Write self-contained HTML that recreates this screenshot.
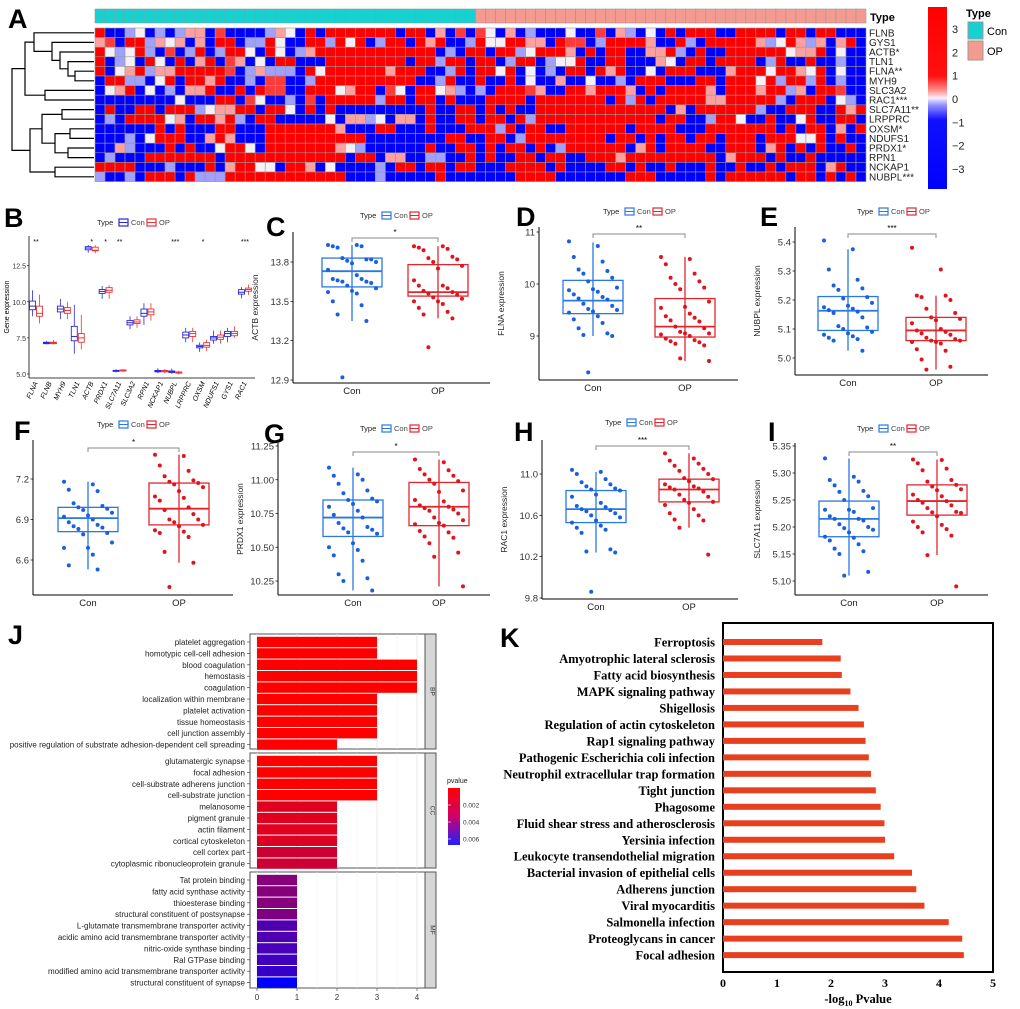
<!DOCTYPE html>
<html><head><meta charset="utf-8"><style>
html,body{margin:0;padding:0;background:#fff}
svg{display:block;font-family:"Liberation Sans",Arial,sans-serif}
</style></head><body>
<svg id="fig" width="1020" height="1009" viewBox="0 0 1020 1009" xmlns="http://www.w3.org/2000/svg"></svg>
<script>
// ---------- DATA ----------
const heatGenes = ["FLNB","GYS1","ACTB*","TLN1","FLNA**","MYH9","SLC3A2","RAC1***","SLC7A11**","LRPPRC","OXSM*","NDUFS1","PRDX1*","RPN1","NCKAP1","NUBPL***"];
const heatRows = [
"60023020244050000243060666666606604050530402000300504203060666006666066066000",
"45066243404066022630066263602660646002633664406550266664006206666642364240460",
"63236205026026630630246666666666660206606623666406066004462060066666634460300",
"60230630604605403066000666666660662660660266023360066000430660666602600600200",
"60346244666665024222063666666466600260663603020660646003066600046663664360300",
"06622036066460020550026666666666002600600603004003002066600066066636266260200",
"03460302044600606550066634660530663420206665400664666406066664066646624066500",
"00000000300066053002050666662660660600066660666666606260666664466666206660320",
"06006606662344660663060600000000060066060600666666666666604066666620066600646",
"02066663406646206600000304423044060066066062666666666666066002663006003600660",
"00000060600066000666666640006600060006662606600666666066660006666666060660406",
"00020366600464000666666666600000000660066026666666606606066066066606663360600",
"00420006060036630666666643200000060066060660602666666046066660066604606060060",
"02000666666606666666666660660440022006060066066006664666666666046660600600000",
"66660002000604663306640300002066066066000666606000066060060006006006066604600",
"20020666062226666666666660002000006000000066660000000666000006066666606606060"
];
const colorTicks = [3,2,1,0,-1,-2,-3];

const bGenes = ["FLNA","FLNB","MYH9","TLN1","ACTB","PRDX1","SLC7A11","SLC3A2","RPN1","NCKAP1","NUBPL","LRPPRC","OXSM","NDUFS1","GYS1","RAC1"];
// [lo, q1, median, q3, hi]
const bCon = [[9.0,9.45,9.7,10.05,10.8],[7.05,7.1,7.15,7.2,7.28],[8.8,9.3,9.5,9.7,10.2],[6.4,7.3,7.6,8.3,9.8],[13.4,13.6,13.72,13.82,13.93],[10.2,10.58,10.72,10.85,11.09],[5.11,5.18,5.22,5.25,5.33],[8.1,8.4,8.55,8.7,9.0],[8.4,9.0,9.2,9.5,9.9],[5.05,5.15,5.2,5.25,5.4],[5.02,5.1,5.16,5.21,5.38],[7.2,7.5,7.7,7.9,8.2],[6.53,6.81,6.91,6.99,7.18],[7.1,7.35,7.5,7.6,8.0],[7.2,7.6,7.8,7.95,8.2],[10.24,10.53,10.66,10.84,11.02]];
const bOp = [[8.5,9.0,9.2,9.7,10.5],[7.05,7.1,7.15,7.2,7.35],[8.8,9.2,9.4,9.6,10.0],[6.7,7.2,7.5,7.8,9.1],[13.35,13.53,13.57,13.78,13.93],[10.21,10.66,10.8,10.98,11.15],[5.15,5.22,5.25,5.28,5.33],[8.2,8.5,8.6,8.75,9.0],[8.7,9.1,9.3,9.5,9.9],[5.05,5.15,5.2,5.25,5.35],[4.96,5.06,5.1,5.14,5.22],[7.2,7.6,7.8,7.95,8.2],[6.58,6.86,6.98,7.17,7.38],[7.1,7.4,7.55,7.7,8.0],[7.5,7.65,7.8,7.95,8.3],[10.48,10.73,10.85,10.95,11.2]];
const bStars = ["**","","","","*","*","**","","","","***","","*","","","***"];
const bTicks = [5.0,7.5,10.0,12.5];

const actbCon=[13.93,13.93,13.92,13.92,13.91,13.82,13.83,13.82,13.81,13.8,13.79,13.74,13.7,13.67,13.67,13.66,13.65,13.65,13.64,13.62,13.6,13.58,13.57,13.56,13.5,13.47,13.4,13.35,12.92];
const actbOp=[13.92,13.92,13.91,13.9,13.89,13.84,13.83,13.82,13.8,13.77,13.75,13.66,13.62,13.62,13.6,13.58,13.57,13.56,13.55,13.53,13.52,13.5,13.5,13.48,13.45,13.42,13.4,13.37,13.15];
const actbStatsCon=[13.35,13.61,13.73,13.83,13.93], actbStatsOp=[13.37,13.54,13.57,13.78,13.92];
const actbTicks=[12.9,13.2,13.5,13.8];

const flnaCon=[10.82,10.73,10.52,10.43,10.28,10.25,10.2,10.12,10.05,9.93,9.9,9.88,9.85,9.8,9.75,9.72,9.7,9.62,9.58,9.52,9.5,9.47,9.45,9.38,9.32,9.25,9.15,9.05,9.02,9.0,8.3];
const flnaOp=[10.52,10.48,10.38,10.2,10.12,10.05,10.0,9.93,9.9,9.66,9.56,9.54,9.43,9.38,9.35,9.3,9.28,9.18,9.15,9.08,9.05,9.05,9.03,9.0,8.95,8.92,8.9,8.88,8.85,8.82,8.57,8.52];
const flnaStatsCon=[9.0,9.43,9.68,10.07,10.8], flnaStatsOp=[8.52,8.98,9.18,9.72,10.52];
const flnaTicks=[9,10,11];

const nubplCon=[5.405,5.375,5.305,5.27,5.25,5.24,5.235,5.21,5.205,5.19,5.18,5.175,5.17,5.165,5.16,5.155,5.14,5.11,5.105,5.1,5.09,5.085,5.08,5.075,5.07,5.065,5.06,5.025];
const nubplOp=[5.38,5.305,5.215,5.215,5.21,5.2,5.17,5.155,5.14,5.135,5.13,5.12,5.1,5.095,5.09,5.085,5.08,5.07,5.065,5.06,5.06,5.055,5.055,5.05,5.03,5.025,4.995,4.97,4.96];
const nubplStatsCon=[5.025,5.095,5.163,5.212,5.375], nubplStatsOp=[4.96,5.06,5.095,5.14,5.215];
const nubplTicks=[5.0,5.1,5.2,5.3,5.4];

const oxsmCon=[7.18,7.16,7.12,7.11,7.02,7.0,6.99,6.98,6.97,6.95,6.93,6.92,6.9,6.88,6.86,6.85,6.84,6.83,6.8,6.79,6.73,6.69,6.69,6.64,6.56,6.53];
const oxsmOp=[7.38,7.37,7.3,7.26,7.22,7.19,7.18,7.17,7.16,7.14,7.11,7.07,7.06,7.04,6.99,6.97,6.94,6.9,6.9,6.88,6.86,6.85,6.82,6.81,6.8,6.77,6.66,6.58,6.4];
const oxsmStatsCon=[6.53,6.81,6.91,6.99,7.18], oxsmStatsOp=[6.58,6.86,6.98,7.17,7.38];
const oxsmTicks=[6.6,6.9,7.2];

const prdx1Con=[11.09,11.04,11.03,11.0,10.97,10.92,10.9,10.86,10.85,10.84,10.82,10.8,10.77,10.74,10.72,10.68,10.65,10.64,10.63,10.61,10.6,10.53,10.5,10.48,10.44,10.4,10.3,10.27,10.25,10.18];
const prdx1Op=[11.15,11.13,11.08,11.07,11.04,11.03,11.0,10.99,10.97,10.92,10.91,10.85,10.84,10.81,10.8,10.79,10.78,10.77,10.75,10.72,10.7,10.68,10.67,10.66,10.62,10.61,10.58,10.57,10.53,10.46,10.43,10.21];
const prdx1StatsCon=[10.18,10.58,10.72,10.85,11.09], prdx1StatsOp=[10.21,10.66,10.8,10.98,11.15];
const prdx1Ticks=[10.25,10.5,10.75,11.0,11.25];

const rac1Con=[11.04,11.02,11.0,10.95,10.92,10.9,10.88,10.86,10.85,10.84,10.8,10.78,10.72,10.69,10.68,10.66,10.65,10.64,10.62,10.6,10.58,10.55,10.53,10.5,10.48,10.46,10.43,10.27,10.25,10.24,9.86];
const rac1Op=[11.2,11.15,11.13,11.1,11.08,11.05,11.03,11.0,10.96,10.95,10.93,10.9,10.88,10.87,10.86,10.85,10.83,10.8,10.78,10.75,10.73,10.72,10.7,10.66,10.62,10.6,10.56,10.55,10.48,10.22];
const rac1StatsCon=[10.24,10.53,10.66,10.84,11.02], rac1StatsOp=[10.48,10.73,10.85,10.95,11.2];
const rac1Ticks=[9.8,10.2,10.6,11.0];

const slcCon=[5.327,5.293,5.287,5.284,5.277,5.267,5.265,5.257,5.25,5.235,5.232,5.232,5.228,5.22,5.215,5.215,5.212,5.205,5.2,5.198,5.195,5.19,5.182,5.18,5.175,5.168,5.16,5.155,5.15,5.117,5.11];
const slcOp=[5.325,5.324,5.318,5.308,5.305,5.287,5.284,5.278,5.275,5.27,5.268,5.26,5.257,5.25,5.248,5.245,5.24,5.235,5.228,5.227,5.226,5.22,5.21,5.204,5.2,5.196,5.19,5.184,5.148,5.09];
const slcStatsCon=[5.11,5.182,5.215,5.248,5.327], slcStatsOp=[5.148,5.222,5.248,5.278,5.325];
const slcTicks=[5.10,5.15,5.20,5.25,5.30,5.35];

const goTerms=["platelet aggregation","homotypic cell-cell adhesion","blood coagulation","hemostasis","coagulation","localization within membrane","platelet activation","tissue homeostasis","cell junction assembly","positive regulation of substrate adhesion-dependent cell spreading","glutamatergic synapse","focal adhesion","cell-substrate adherens junction","cell-substrate junction","melanosome","pigment granule","actin filament","cortical cytoskeleton","cell cortex part","cytoplasmic ribonucleoprotein granule","Tat protein binding","fatty acid synthase activity","thioesterase binding","structural constituent of postsynapse","L-glutamate transmembrane transporter activity","acidic amino acid transmembrane transporter activity","nitric-oxide synthase binding","Ral GTPase binding","modified amino acid transmembrane transporter activity","structural constituent of synapse"];
const goCounts=[3,3,4,4,4,3,3,3,3,2, 3,3,3,3,2,2,2,2,2,2, 1,1,1,1,1,1,1,1,1,1];
const goPvalues=[0.0003,0.0003,0.0003,0.0003,0.0003,0.0003,0.0003,0.0003,0.0003,0.0003, 0.0003,0.0003,0.0003,0.0003,0.0011,0.0011,0.0011,0.0012,0.0016,0.0016, 0.0034,0.0034,0.0034,0.0036,0.0048,0.0048,0.005,0.0052,0.0054,0.0068];
const goOntology=["BP","CC","MF"];
const goTicks=[0,1,2,3,4];

const keggTerms=["Ferroptosis","Amyotrophic lateral sclerosis","Fatty acid biosynthesis","MAPK signaling pathway","Shigellosis","Regulation of actin cytoskeleton","Rap1 signaling pathway","Pathogenic Escherichia coli infection","Neutrophil extracellular trap formation","Tight junction","Phagosome","Fluid shear stress and atherosclerosis","Yersinia infection","Leukocyte transendothelial migration","Bacterial invasion of epithelial cells","Adherens junction","Viral myocarditis","Salmonella infection","Proteoglycans in cancer","Focal adhesion"];
const keggValues=[1.84,2.18,2.20,2.36,2.51,2.61,2.64,2.70,2.74,2.83,2.92,2.99,3.00,3.17,3.50,3.58,3.73,4.18,4.43,4.46];
const keggTicks=[0,1,2,3,4,5];

// ---------- HELPERS ----------
const NS="http://www.w3.org/2000/svg";
const svg=document.getElementById('fig');
function mk(tag,attrs,parent,text){const e=document.createElementNS(NS,tag);for(const k in attrs)e.setAttribute(k,attrs[k]);if(text!==undefined)e.textContent=text;(parent||svg).appendChild(e);return e;}
function grp(name,parent){const g=mk('g',{},parent);


return g;}
function lin(v0,p0,v1,p1){return v=>p0+(v-v0)*(p1-p0)/(v1-v0);}
function panelLetter(ch,x,y,parent){const t=mk('text',{x:x,y:y,'font-size':27,'font-weight':'bold','font-family':'Liberation Sans,Arial,sans-serif'},parent,ch);

}

// ---------- PANEL A: heatmap ----------
(function(){
const g=grp('panel-a-heatmap');
panelLetter('A',8,28,g);
const x0=95,x1=866,yTop=28,rowH=9.6,nCol=77,cw=(x1-x0)/nCol;
const palette=['#0000ff','#3a3aff','#a0a0ff','#f5f0f5','#ffa0a0','#ff3a3a','#ff0000'];
// type bar
for(let c=0;c<nCol;c++){const r=mk('rect',{x:x0+c*cw,y:9,width:cw,height:14,fill:c<38?'#17d0d0':'#f59a90',stroke:'#999','stroke-width':0.6},g);

}
const tt=mk('text',{x:870,y:21,'font-size':11,'font-weight':'bold'},g,'Type');


heatRows.forEach((row,i)=>{
 for(let c=0;c<nCol;c++){const v=c<row.length?+row[c]:3;
  const r=mk('rect',{x:x0+c*cw,y:yTop+i*rowH,width:cw,height:rowH,fill:palette[v],stroke:'#999','stroke-width':0.6},g);
  
  }
 const t=mk('text',{x:869,y:yTop+i*rowH+rowH/2+3.5,'font-size':10,fill:'#222'},g,heatGenes[i]);
 
 
});
// dendrogram
const leafY=i=>yTop+rowH*(i+0.5);
const tree=[[[0,[1,[2,[3,[4,5,75],68],60],52],34],[6,7,45],25],[[[8,9,62],[[10,11,70],[12,13,68],55],42],[14,15,55],30],12];
function draw(n){ if(typeof n==='number') return {x:94,y:leafY(n)};
 const a=draw(n[0]),b=draw(n[1]),x=n[2];
 const p=mk('path',{d:`M${a.x},${a.y}H${x}V${b.y}H${b.x}`,fill:'none',stroke:'#000','stroke-width':1.2},g);
 
 
 return {x:x,y:(a.y+b.y)/2};}
draw(tree);
// color bar
const defs=mk('defs',{},g);
const lg=mk('linearGradient',{id:'hmgrad',x1:0,y1:0,x2:0,y2:1},defs);
[['0','#ff0000'],['0.38','#ff1010'],['0.46','#ff9090'],['0.5','#f8f0f8'],['0.54','#9090ff'],['0.62','#1010ff'],['1','#0000ff']].forEach(s=>mk('stop',{offset:s[0],'stop-color':s[1]},lg));
const cb=mk('rect',{x:928,y:7,width:19,height:182,fill:'url(#hmgrad)'},g);


const cy=lin(3,29,-3,169);
colorTicks.forEach(v=>{const t=mk('text',{x:952,y:cy(v)+4,'font-size':11,fill:'#222'},g,v<0?'\u2212'+(-v):String(v));

});
const lt=mk('text',{x:966,y:17,'font-size':11,'font-weight':'bold'},g,'Type');


const b1=mk('rect',{x:968,y:22,width:15,height:17,fill:'#17d0d0',stroke:'#999'},g);


const b2=mk('rect',{x:968,y:41,width:15,height:19,fill:'#f59a90',stroke:'#999'},g);


const l1=mk('text',{x:987,y:35,'font-size':11},g,'Con');


const l2=mk('text',{x:987,y:55,'font-size':11},g,'OP');


})();

// ---------- legend for box panels ----------
function boxLegend(g,x,y,conCol,opCol){
 mk('text',{x:x,y:y+3,'font-size':7.5,fill:'#222'},g,'Type');
 [[conCol,'Con',x+22],[opCol,'OP',x+50]].forEach(([c,l,xx])=>{
  const r=mk('rect',{x:xx,y:y-3,width:9,height:7,fill:'none',stroke:c,'stroke-width':1.2},g);
  
  
  mk('line',{x1:xx,x2:xx+9,y1:y+0.5,y2:y+0.5,stroke:c,'stroke-width':1},g);
  mk('text',{x:xx+12,y:y+3,'font-size':7.5,fill:'#444'},g,l);
 });
}

// ---------- PANEL B ----------
(function(){
const g=grp('panel-b-all-genes');
panelLetter('B',4,227,g);
const y=lin(5.0,374,12.5,265.7), gx=i=>36+i*13.93;
boxLegend(g,97,222,'#2828d8','#e83434');
mk('line',{x1:29,x2:29,y1:236,y2:378,stroke:'#000','stroke-width':0.8},g);
mk('line',{x1:29,x2:255,y1:378,y2:378,stroke:'#000','stroke-width':0.8},g);
bTicks.forEach(v=>{const t=mk('text',{x:26,y:y(v)+3,'font-size':7,'text-anchor':'end',fill:'#333'},g,v.toFixed(1));


mk('line',{x1:27,x2:29,y1:y(v),y2:y(v),stroke:'#000','stroke-width':0.6},g);});
const yt=mk('text',{x:9,y:307,'font-size':7,'text-anchor':'middle',transform:'rotate(-90 9 307)'},g,'Gene expression');


bGenes.forEach((name,i)=>{
 [[bCon[i],-3.5,'#2828d8'],[bOp[i],3.5,'#e83434']].forEach(([s,off,col])=>{
  const cx=gx(i)+off;
  const w=mk('line',{x1:cx,x2:cx,y1:y(s[0]),y2:y(s[4]),stroke:col,'stroke-width':0.8},g);
  
  
  const r=mk('rect',{x:cx-3,y:y(s[3]),width:6,height:Math.max(1,y(s[1])-y(s[3])),fill:'#fff',stroke:col,'stroke-width':0.9},g);
  
  
  mk('line',{x1:cx-3,x2:cx+3,y1:y(s[2]),y2:y(s[2]),stroke:col,'stroke-width':1},g);
 });
 if(bStars[i]){mk('text',{x:gx(i),y:244,'font-size':7,'text-anchor':'middle'},g,bStars[i]);}
 const t=mk('text',{x:gx(i)+2,y:383,'font-size':7,'font-style':'italic','text-anchor':'end',transform:`rotate(-65 ${gx(i)+2} 383)`},g,name);
 
 
});
})();

// ---------- box/jitter panels ----------
function boxPanel(cfg){
 const g=grp(cfg.name);
 panelLetter(cfg.letter,cfg.lx,cfg.ly,g);
 const y=lin(cfg.ticks[0],cfg.tp0,cfg.ticks[cfg.ticks.length-1],cfg.tp1);
 boxLegend(g,cfg.legx,cfg.legy,'#2a78e4','#e3262e');
 mk('line',{x1:cfg.ax,x2:cfg.ax,y1:cfg.top,y2:cfg.bottom,stroke:'#000','stroke-width':1},g);
 mk('line',{x1:cfg.ax,x2:cfg.right,y1:cfg.bottom,y2:cfg.bottom,stroke:'#000','stroke-width':1},g);
 cfg.ticks.forEach(v=>{const t=mk('text',{x:cfg.ax-4,y:y(v)+3.5,'font-size':9.5,'text-anchor':'end',fill:'#333'},g,v.toFixed(cfg.dec));
  
  
  mk('line',{x1:cfg.ax-2.5,x2:cfg.ax,y1:y(v),y2:y(v),stroke:'#000','stroke-width':0.7},g);});
 const tx=cfg.ax-35, ty=(cfg.top+cfg.bottom)/2;
 const yt=mk('text',{x:tx,y:ty,'font-size':8.5,'text-anchor':'middle',transform:`rotate(-90 ${tx} ${ty})`,fill:'#222'},g,cfg.ytitle);
 
 
 [[cfg.con,cfg.sCon,cfg.xc,'#2a78e4','#1a5fe0','Con'],[cfg.op,cfg.sOp,cfg.xo,'#e3262e','#e0141c','OP']].forEach(([pts,s,cx,col,dot,lab])=>{
  const w=mk('line',{x1:cx,x2:cx,y1:y(s[0]),y2:y(s[4]),stroke:col,'stroke-width':1.3},g);
  
  
  const r=mk('rect',{x:cx-30,y:y(s[3]),width:60,height:y(s[1])-y(s[3]),fill:'none',stroke:col,'stroke-width':1.3},g);
  
  
  const m=mk('line',{x1:cx-30,x2:cx+30,y1:y(s[2]),y2:y(s[2]),stroke:col,'stroke-width':1.8},g);
  
  
  pts.forEach((v,i)=>{const off=(((i*17)%11)-5)/5*24;
   const c=mk('circle',{cx:cx+off,cy:y(v),r:2,fill:dot},g);
   
   });
  const xl=mk('text',{x:cx,y:cfg.bottom+11,'font-size':9.5,'text-anchor':'middle',fill:'#222'},g,lab);
  
  
 });
 mk('path',{d:`M${cfg.xc},${cfg.br+4}V${cfg.br}H${cfg.xo}V${cfg.br+4}`,fill:'none',stroke:'#888','stroke-width':1},g);
 const st=mk('text',{x:(cfg.xc+cfg.xo)/2,y:cfg.br-3,'font-size':8,'text-anchor':'middle'},g,cfg.star);
 
 
}
boxPanel({name:'panel-c-actb',letter:'C',lx:266,ly:236,legx:360,legy:215,ax:293,right:490,top:232,bottom:383,ticks:actbTicks,tp0:380,tp1:262,dec:1,con:actbCon,op:actbOp,sCon:actbStatsCon,sOp:actbStatsOp,xc:352,xo:438,br:238,star:'*',ytitle:'ACTB expression'});
boxPanel({name:'panel-d-flna',letter:'D',lx:516,ly:226,legx:603,legy:211,ax:539,right:738,top:227,bottom:380,ticks:flnaTicks,tp0:336,tp1:232,dec:0,con:flnaCon,op:flnaOp,sCon:flnaStatsCon,sOp:flnaStatsOp,xc:593,xo:685,br:234,star:'**',ytitle:'FLNA expression'});
boxPanel({name:'panel-e-nubpl',letter:'E',lx:760,ly:226,legx:857,legy:211,ax:795,right:988,top:227,bottom:375,ticks:nubplTicks,tp0:358,tp1:242,dec:1,con:nubplCon,op:nubplOp,sCon:nubplStatsCon,sOp:nubplStatsOp,xc:848,xo:936,br:234,star:'***',ytitle:'NUBPL expression'});
boxPanel({name:'panel-f-oxsm',letter:'F',lx:14,ly:440,legx:97,legy:424,ax:33,right:233,top:440,bottom:595,ticks:oxsmTicks,tp0:560,tp1:479,dec:1,con:oxsmCon,op:oxsmOp,sCon:oxsmStatsCon,sOp:oxsmStatsOp,xc:88,xo:179,br:448,star:'*',ytitle:'OXSM expression'});
boxPanel({name:'panel-g-prdx1',letter:'G',lx:264,ly:443,legx:360,legy:428,ax:278,right:490,top:443,bottom:595,ticks:prdx1Ticks,tp0:581,tp1:446,dec:2,con:prdx1Con,op:prdx1Op,sCon:prdx1StatsCon,sOp:prdx1StatsOp,xc:353,xo:439,br:452,star:'*',ytitle:'PRDX1 expression'});
boxPanel({name:'panel-h-rac1',letter:'H',lx:514,ly:441,legx:605,legy:422,ax:542,right:738,top:440,bottom:599,ticks:rac1Ticks,tp0:598,tp1:474,dec:1,con:rac1Con,op:rac1Op,sCon:rac1StatsCon,sOp:rac1StatsOp,xc:596,xo:689,br:446,star:'***',ytitle:'RAC1 expression'});
boxPanel({name:'panel-i-slc7a11',letter:'I',lx:768,ly:441,legx:857,legy:428,ax:795,right:988,top:443,bottom:595,ticks:slcTicks,tp0:581,tp1:446,dec:2,con:slcCon,op:slcOp,sCon:slcStatsCon,sOp:slcStatsOp,xc:849,xo:937,br:452,star:'**',ytitle:'SLC7A11 expression'});

// ---------- PANEL J ----------
(function(){
const g=grp('panel-j-go-enrichment');
panelLetter('J',8,644,g);
const x=lin(0,257,4,417);
const facets=[[634,749],[753,868],[872,988]];
const rowStep=11.4;
function pcol(p){const t=Math.max(0,Math.min(1,(p-0.0003)/0.0065));
 return `rgb(${Math.round(255*(1-t))},0,${Math.round(255*t)})`;}
facets.forEach((f,k)=>{
 const bg=mk('rect',{x:250,y:f[0],width:175,height:f[1]-f[0],fill:'#fff',stroke:'#555','stroke-width':1},g);
 
 
 for(let v=0;v<=4;v+=0.5){mk('line',{x1:x(v),x2:x(v),y1:f[0],y2:f[1],stroke:v%1?'#f2f2f2':'#e4e4e4','stroke-width':v%1?0.5:0.8},g);}
 const s=mk('rect',{x:425,y:f[0],width:11,height:f[1]-f[0],fill:'#d6d6d6',stroke:'#555','stroke-width':1},g);
 
 
 const cy=(f[0]+f[1])/2;
 mk('text',{x:430.5,y:cy,'font-size':6.5,'text-anchor':'middle',transform:`rotate(90 430.5 ${cy})`,fill:'#333'},g,goOntology[k]);
});
goTerms.forEach((t,i)=>{
 const k=Math.floor(i/10), j=i%10, cy=facets[k][0]+7+j*rowStep+1;
 const b=mk('rect',{x:x(0),y:cy-5.2,width:x(goCounts[i])-x(0),height:10.4,fill:pcol(goPvalues[i])},g);
 
 
 const l=mk('text',{x:245,y:cy+3,'font-size':8,'text-anchor':'end',fill:'#222'},g,t);
 
 
 mk('line',{x1:247,x2:250,y1:cy,y2:cy,stroke:'#333','stroke-width':0.6},g);
});
goTicks.forEach(v=>{const t=mk('text',{x:x(v),y:1000,'font-size':8,'text-anchor':'middle',fill:'#333'},g,String(v));
 
 
 mk('line',{x1:x(v),x2:x(v),y1:988,y2:991,stroke:'#333','stroke-width':0.6},g);});
const defs=mk('defs',{},g);
const lg=mk('linearGradient',{id:'pgrad',x1:0,y1:0,x2:0,y2:1},defs);
mk('stop',{offset:'0','stop-color':'#ff0000'},lg);
mk('stop',{offset:'0.5','stop-color':'#d0006a'},lg);
mk('stop',{offset:'1','stop-color':'#2020ff'},lg);
const pl=mk('text',{x:447,y:783,'font-size':7,fill:'#222'},g,'pvalue');


const gb=mk('rect',{x:448,y:788,width:12,height:57,fill:'url(#pgrad)'},g);


[['0.002',805],['0.004',822],['0.006',839]].forEach(([l,yy])=>{mk('line',{x1:448,x2:451,y1:yy,y2:yy,stroke:'#fff','stroke-width':0.6},g);
 const t=mk('text',{x:463,y:yy+2.5,'font-size':6.5,fill:'#333'},g,l);
 
 });
})();

// ---------- PANEL K ----------
(function(){
const g=grp('panel-k-kegg-enrichment');
panelLetter('K',500,647,g);
const x=lin(0,723,5,993);
const fr=mk('rect',{x:723,y:623,width:270,height:349,fill:'none',stroke:'#000','stroke-width':2},g);


keggTerms.forEach((t,i)=>{const cy=642+i*16.48;
 const b=mk('rect',{x:x(0),y:cy-3,width:x(keggValues[i])-x(0),height:6,fill:'#e8401e'},g);
 
 
 const l=mk('text',{x:715,y:cy+4.5,'font-size':12.5,'font-weight':'bold','font-family':'Liberation Serif,Times New Roman,serif','text-anchor':'end'},g,t);
 
 
});
keggTicks.forEach(v=>{const t=mk('text',{x:x(v),y:987,'font-size':12,'font-weight':'bold','font-family':'Liberation Serif,serif','text-anchor':'middle'},g,String(v));
 
 });
const xt=mk('text',{x:858,y:1003,'font-size':12.5,'font-weight':'bold','font-family':'Liberation Serif,serif','text-anchor':'middle'},g);


mk('tspan',{},xt,'-log');
mk('tspan',{'font-size':8,dy:3},xt,'10');
mk('tspan',{dy:-3},xt,' Pvalue');
})();
</script>
</body></html>
